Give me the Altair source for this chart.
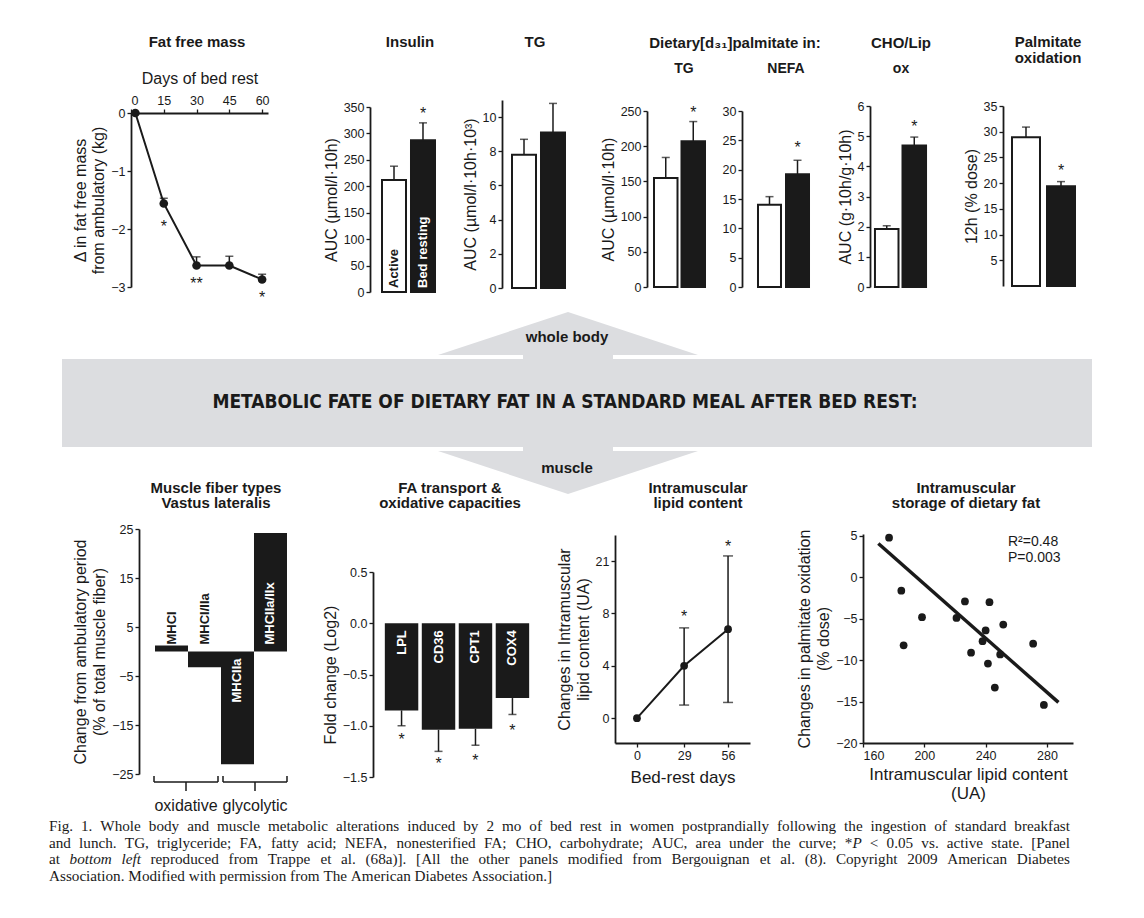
import altair as alt
import pandas as pd

SANS = "Liberation Sans"
SERIF = "Liberation Serif"
INK = "#1a1a1a"
BANNER_GREY = "#dcdde0"

# ---------------- data ----------------
# Fat free mass
ffm_days = [2, 15, 30, 45, 60]
ffm_change = [0.0, -1.56, -2.63, -2.63, -2.87]
ffm_err_top = [None, -1.47, -2.48, -2.47, -2.78]
ffm_star = ["", "*", "**", "", "*"]
ffm_star_y = [None, -1.90, -2.88, None, -3.12]

groups = ["Active", "Bed resting"]
insulin_auc = [212, 287]
insulin_err = [238, 320]
insulin_star_y = [None, 345]
tg_auc = [7.8, 9.1]
tg_err = [8.7, 10.8]
tg_star_y = [None, None]
d31_tg_auc = [155, 207]
d31_tg_err = [184, 235]
d31_tg_star_y = [None, 253]
d31_nefa_auc = [14.0, 19.2]
d31_nefa_err = [15.4, 21.6]
d31_nefa_star_y = [None, 24.4]
cho_lip_auc = [1.92, 4.69]
cho_lip_err = [2.03, 4.97]
cho_lip_star_y = [None, 5.45]
palm_ox = [28.9, 19.4]
palm_ox_err = [30.9, 20.3]
palm_ox_star_y = [None, 23.2]

# Muscle fiber types
fiber_types = ["MHCI", "MHCI/IIa", "MHCIIa", "MHCIIa/IIx"]
fiber_change = [1.2, -3.2, -23.0, 24.2]
fiber_groups = ["oxidative", "glycolytic"]

# FA transport & oxidative capacities
genes = ["LPL", "CD36", "CPT1", "COX4"]
gene_fold = [-0.85, -1.04, -1.03, -0.73]
gene_err = [-1.00, -1.25, -1.19, -0.89]
gene_star_y = [-1.10, -1.33, -1.30, -1.01]

# Intramuscular lipid content
imcl_days = [0, 29, 56]
imcl_change = [0.0, 4.0, 6.8]
imcl_low = [None, 1.0, 1.2]
imcl_high = [None, 6.9, 12.4]
imcl_star_y = [None, 8.0, 13.4]

# Intramuscular storage of dietary fat
scat_imcl = [177, 185, 186.5, 198.5, 221, 226.5, 230.5, 238, 240, 242.5,
             241.5, 246, 249.5, 251.5, 271, 278]
scat_palm = [4.8, -1.6, -8.2, -4.8, -4.9, -2.9, -9.1, -7.7, -6.4, -3.0,
             -10.4, -13.3, -9.3, -5.7, -8.0, -15.4]
fit_x = [170, 287.5]
fit_y = [4.1, -15.1]
fit_stats = ["R²=0.48", "P=0.003"]

banner_title = "METABOLIC FATE OF DIETARY FAT IN A STANDARD MEAL AFTER BED REST:"
banner_labels = ["whole body", "muscle"]
caption_lines = [
    "Fig. 1. Whole body and muscle metabolic alterations induced by 2 mo of bed rest in women postprandially following the ingestion of standard breakfast",
    "and lunch. TG, triglyceride; FA, fatty acid; NEFA, nonesterified FA; CHO, carbohydrate; AUC, area under the curve; *P < 0.05 vs. active state. [Panel",
    "at bottom left reproduced from Trappe et al. (68a)]. [All the other panels modified from Bergouignan et al. (8). Copyright 2009 American Diabetes",
    "Association. Modified with permission from The American Diabetes Association.]",
]
caption_italic = {"bottom", "left", "P"}

# ---------------- layout ----------------
H1, H3 = 300, 281


def blank(w, h):
    return alt.Chart(pd.DataFrame({"s": [0]})).mark_point(opacity=0, size=1).encode(
        x=alt.value(w / 2), y=alt.value(h / 2)).properties(width=w, height=h)


def note(text, x, y, size=15, weight="bold", color=INK, align="center", font=SANS):
    return alt.Chart(pd.DataFrame({"t": [text]})).mark_text(
        fontSize=size, fontWeight=weight, color=color, align=align,
        baseline="middle", font=font
    ).encode(x=alt.value(x), y=alt.value(y), text=alt.value(text))


def rule(x, y, x2=None, y2=None, width=1.5):
    enc = {"x": alt.value(x), "y": alt.value(y)}
    if x2 is not None:
        enc["x2"] = alt.value(x2)
    if y2 is not None:
        enc["y2"] = alt.value(y2)
    return alt.Chart(pd.DataFrame({"s": [0]})).mark_rule(
        color=INK, strokeWidth=width).encode(**enc)


# ---------------- fat free mass ----------------
def ffm_panel(w=137):
    df = pd.DataFrame({"day": ffm_days, "change": ffm_change, "err": ffm_err_top,
                       "star": ffm_star, "star_y": ffm_star_y})
    xs = alt.Scale(domain=[0, 62.7], nice=False, zero=False)
    ys = alt.Scale(domain=[-3, 0], nice=False, zero=False, range=[279, 105])
    xax = alt.Axis(orient="top", offset=-105, values=[0, 15, 30, 45, 60],
                   title="Days of bed rest", titlePadding=8, labelPadding=2)
    yax = alt.Axis(values=[0, -1, -2, -3],
                   title=["Δ in fat free mass", "from ambulatory (kg)"],
                   titleLineHeight=18)
    X = alt.X("day:Q", scale=xs, axis=xax)
    base = alt.Chart(df)
    witherr = base.transform_filter("isValid(datum.err)")
    err = witherr.mark_rule(color=INK, strokeWidth=1.5).encode(
        x=X, y=alt.Y("change:Q", scale=ys, axis=yax), y2="err:Q")
    cap = witherr.mark_tick(color=INK, thickness=1.5, size=8, orient="horizontal").encode(
        x=X, y=alt.Y("err:Q", scale=ys, axis=yax))
    line = base.mark_line(color=INK, strokeWidth=2).encode(
        x=X, y=alt.Y("change:Q", scale=ys, axis=yax))
    pts = base.mark_circle(size=75, color=INK, opacity=1).encode(
        x=X, y=alt.Y("change:Q", scale=ys, axis=yax))
    stars = base.transform_filter("isValid(datum.star_y)").mark_text(
        fontSize=16, dy=4, color=INK).encode(
        x=X, y=alt.Y("star_y:Q", scale=ys, axis=yax), text="star:N")
    return alt.layer(err, cap, line, pts, stars,
                     note("Fat free mass", 66, 34)).properties(width=w, height=H1)


# ---------------- paired bar panels ----------------
def bar_pair(vals, errs, star_y, dom, ticks, ytitle, w, rng, pin, pout,
             names=False, notes=()):
    df = pd.DataFrame({"group": groups, "value": vals, "err": errs, "star_y": star_y})
    X = alt.X("group:N", scale=alt.Scale(domain=groups, paddingInner=pin,
                                         paddingOuter=pout), axis=None)
    ys = alt.Scale(domain=dom, nice=False, zero=False, range=rng)
    yax = alt.Axis(values=ticks, title=ytitle)
    base = alt.Chart(df).encode(x=X)
    err = base.mark_rule(color=INK, strokeWidth=1.5).encode(
        y=alt.Y("value:Q", scale=ys, axis=yax), y2="err:Q")
    cap = base.mark_tick(color=INK, thickness=1.5, size=8, orient="horizontal").encode(
        y=alt.Y("err:Q", scale=ys, axis=yax))
    bars = base.mark_bar(stroke=INK, strokeWidth=2).encode(
        y=alt.Y("value:Q", scale=ys, axis=yax),
        fill=alt.condition(alt.datum.group == "Active", alt.value("white"), alt.value(INK)))
    stars = base.transform_filter("isValid(datum.star_y)").mark_text(
        text="*", fontSize=16, dy=4, color=INK).encode(
        y=alt.Y("star_y:Q", scale=ys, axis=yax))
    layers = [err, cap, bars, stars]
    if names:
        layers.append(base.mark_text(angle=270, align="left", baseline="middle", dx=4,
                                     fontSize=13, fontWeight="bold").encode(
            y=alt.YDatum(0, scale=ys),
            text="group:N",
            color=alt.condition(alt.datum.group == "Active", alt.value(INK), alt.value("white"))))
    for n in notes:
        layers.append(note(*n))
    return alt.layer(*layers).properties(width=w, height=H1)


ffm = ffm_panel()
insulin = bar_pair(insulin_auc, insulin_err, insulin_star_y, [0, 350], list(range(0, 351, 50)),
                   "AUC (µmol/l·10h)", 77, [284, 99], 0.172, 0.414, names=True,
                   notes=[("Insulin", 40, 34)])
tg = bar_pair(tg_auc, tg_err, tg_star_y, [0, 11], [0, 2, 4, 6, 8, 10],
              "AUC (µmol/l·10h·10³)", 73, [280, 92], 0.172, 0.345,
              notes=[("TG", 33, 34)])
dtg = bar_pair(d31_tg_auc, d31_tg_err, d31_tg_star_y, [0, 250], list(range(0, 251, 50)),
               "AUC (µmol/l·10h)", 65, [279, 103], 0.145, 0.2545,
               notes=[("Dietary[d₃₁]palmitate in:", 88, 35), ("TG", 37, 61, 14)])
nefa = bar_pair(d31_nefa_auc, d31_nefa_err, d31_nefa_star_y, [0, 30], list(range(0, 31, 5)),
                "", 83, [279, 103], 0.179, 0.571,
                notes=[("NEFA", 44, 61, 14)])
cho = bar_pair(cho_lip_auc, cho_lip_err, cho_lip_star_y, [0, 6], list(range(0, 7)),
               "AUC (g·10h/g·10h)", 61, [279, 98], 0.145, 0.18,
               notes=[("CHO/Lip", 31, 35), ("ox", 31, 61, 14)])
palm = bar_pair(palm_ox, palm_ox_err, palm_ox_star_y, [0, 35], list(range(5, 36, 5)),
                "12h (% dose)", 81, [278, 98], 0.2, 0.257,
                notes=[("Palmitate", 45, 34), ("oxidation", 45, 50)])


# ---------------- banner (drawn from the first cell of the lower row) ----------------
def banner_cell(w=131):
    # diagram units are figure pixels; group top of the lower row is at 496, left at 8
    bx = alt.Scale(domain=[62, 1092], range=[54, 1084], nice=False, zero=False)
    by = alt.Scale(domain=[292, 496], range=[-204, 0], nice=False, zero=False)
    rects = pd.DataFrame({"x": [62, 523, 523], "x2": [1092, 613, 613],
                          "y": [359, 355, 447], "y2": [447, 359, 451]})
    tris = pd.DataFrame({"shape": ["up"] * 3 + ["down"] * 3,
                         "x": [438, 568, 698, 438, 568, 698],
                         "y": [355, 312, 355, 451, 494, 451],
                         "y2": [355, 355, 355, 451, 451, 451]})
    r = alt.Chart(rects).mark_rect(color=BANNER_GREY).encode(
        x=alt.X("x:Q", scale=bx, axis=None), x2="x2:Q",
        y=alt.Y("y:Q", scale=by, axis=None), y2="y2:Q")
    t = alt.Chart(tris).mark_area(color=BANNER_GREY).encode(
        x=alt.X("x:Q", scale=bx, axis=None),
        y=alt.Y("y:Q", scale=by, axis=None), y2="y2:Q", detail="shape:N")
    labels = pd.DataFrame({"text": banner_labels, "x": [567, 567], "y": [337, 468]})
    lab = alt.Chart(labels).mark_text(fontSize=15, fontWeight="bold", color=INK).encode(
        x=alt.X("x:Q", scale=bx, axis=None), y=alt.Y("y:Q", scale=by, axis=None), text="text:N")
    head = alt.Chart(pd.DataFrame({"text": [banner_title], "x": [565], "y": [402]})).mark_text(
        fontSize=19, fontWeight="bold", color=INK,
        font="Liberation Sans Narrow, DejaVu Sans Condensed, Liberation Sans").encode(
        x=alt.X("x:Q", scale=bx, axis=None), y=alt.Y("y:Q", scale=by, axis=None), text="text:N")
    return alt.layer(r, t, lab, head).properties(width=w, height=H3)


# ---------------- justified caption ----------------
TIMES_W = {" ": 250, "!": 333, "'": 180, "(": 333, ")": 333, "*": 500, "+": 564, ",": 250,
           "-": 333, ".": 250, "/": 278, ":": 278, ";": 278, "<": 564, "=": 564, ">": 564,
           "[": 333, "]": 333,
           "A": 722, "B": 667, "C": 667, "D": 722, "E": 611, "F": 556, "G": 722, "H": 722,
           "I": 333, "J": 389, "K": 722, "L": 611, "M": 889, "N": 722, "O": 722, "P": 556,
           "Q": 722, "R": 667, "S": 556, "T": 611, "U": 722, "V": 722, "W": 944, "X": 722,
           "Y": 722, "Z": 611,
           "a": 444, "b": 500, "c": 444, "d": 500, "e": 444, "f": 333, "g": 500, "h": 500,
           "i": 278, "j": 278, "k": 500, "l": 278, "m": 778, "n": 500, "o": 500, "p": 500,
           "q": 500, "r": 333, "s": 389, "t": 278, "u": 500, "v": 500, "w": 722, "x": 500,
           "y": 500, "z": 444}
ITALIC_W = {"P": 611, "m": 722, "f": 278}


def text_width(s, size, italic=False):
    tot = 0
    for ch in s:
        if italic and ch in ITALIC_W:
            tot += ITALIC_W[ch]
        else:
            tot += TIMES_W.get(ch, 500)
    return tot * size / 1000.0


def word_segments(word):
    if word.startswith("*") and word[1:] in caption_italic:
        return [("*", False), (word[1:], True)]
    return [(word, word in caption_italic)]


def caption_layers(left, right, top, lead, size):
    rows = []
    for li, line in enumerate(caption_lines):
        words = line.split(" ")
        segs = [word_segments(w) for w in words]
        widths = [sum(text_width(t, size, it) for t, it in s) for s in segs]
        last = li == len(caption_lines) - 1
        gap = text_width(" ", size) if last else (right - left - sum(widths)) / (len(words) - 1)
        x = left
        for wi, (s, wd) in enumerate(zip(segs, widths)):
            sx = x
            for t, it in s:
                anchor_right = (not last) and wi == len(words) - 1 and len(s) == 1
                rows.append({"text": t, "x": right if anchor_right else sx,
                             "y": top + lead * li, "italic": it,
                             "side": "right" if anchor_right else "left"})
                sx += text_width(t, size, it)
            x += wd + gap
    df = pd.DataFrame(rows)
    out = []
    for side in ["left", "right"]:
        for it in [False, True]:
            sub = df[(df.side == side) & (df.italic == it)]
            if len(sub) == 0:
                continue
            out.append(alt.Chart(sub).mark_text(
                align=side, baseline="middle", font=SERIF, fontSize=size, color=INK,
                fontStyle="italic" if it else "normal").encode(
                x=alt.X("x:Q", scale=None, axis=None),
                y=alt.Y("y:Q", scale=None, axis=None), text="text:N"))
    return out


def caption_cell(w=70):
    # cell origin in the figure: x = 303, y = 496
    return alt.layer(blank(w, H3), *caption_layers(49 - 303, 1070 - 303, 826 - 496, 16.5, 15.2)
                     ).properties(width=w, height=H3)


# ---------------- muscle fiber types ----------------
def fiber_panel(w=164):
    pout = 0.485
    step = w / (len(fiber_types) + 2 * pout)
    df = pd.DataFrame({"fiber": fiber_types, "change": fiber_change})
    df["label_color"] = ["white" if abs(v) > 10 else INK for v in fiber_change]
    X = alt.X("fiber:N", scale=alt.Scale(domain=fiber_types, paddingInner=0,
                                         paddingOuter=pout), axis=None)
    ys = alt.Scale(domain=[-25, 25], nice=False, zero=False, range=[278, 33])
    yax = alt.Axis(values=list(range(-25, 30, 5)),
                   labelExpr="(datum.value + 25) % 10 == 0 ? datum.label : ''",
                   title=["Change from ambulatory period", "(% of total muscle fiber)"],
                   titleLineHeight=19)
    base = alt.Chart(df).encode(x=X)
    bars = base.mark_bar(color=INK).encode(y=alt.Y("change:Q", scale=ys, axis=yax))
    up = base.transform_filter("datum.change > -10").mark_text(
        angle=270, align="left", baseline="middle", dx=7, fontSize=13, fontWeight="bold").encode(
        y=alt.YDatum(0, scale=ys), text="fiber:N", color=alt.Color("label_color:N", scale=None))
    down = base.transform_filter("datum.change <= -10").mark_text(
        angle=270, align="right", baseline="middle", dx=-7, fontSize=13, fontWeight="bold",
        color="white").encode(y=alt.YDatum(0, scale=ys), text="fiber:N")
    braces = []
    by_, top_, bot_ = 286, 280, 295
    spans = [(pout * step - 1, pout * step + 2 * step - 3),
             (pout * step + 2 * step + 2, pout * step + 4 * step)]
    for (a, b), name in zip(spans, fiber_groups):
        c = (a + b) / 2
        braces += [rule(a, by_, x2=b), rule(a, top_, y2=by_), rule(b, top_, y2=by_),
                   rule(c, by_, y2=bot_), note(name, c, 310, size=16, weight="normal")]
    return alt.layer(bars, up, down, *braces,
                     note("Muscle fiber types", 77, -8), note("Vastus lateralis", 77, 7)
                     ).properties(width=w, height=H3)


# ---------------- FA transport ----------------
def fa_panel(w=168):
    df = pd.DataFrame({"gene": genes, "fold": gene_fold, "err": gene_err, "star_y": gene_star_y})
    X = alt.X("gene:N", scale=alt.Scale(domain=genes, paddingInner=0.095, paddingOuter=0.32),
              axis=None)
    ys = alt.Scale(domain=[-1.5, 0.5], nice=False, zero=False, range=[281, 76])
    yax = alt.Axis(values=[-1.5, -1.0, -0.5, 0.0, 0.5], format=".1f",
                   title="Fold change (Log2)")
    base = alt.Chart(df).encode(x=X)
    err = base.mark_rule(color=INK, strokeWidth=1.5).encode(
        y=alt.Y("fold:Q", scale=ys, axis=yax), y2="err:Q")
    cap = base.mark_tick(color=INK, thickness=1.5, size=8, orient="horizontal").encode(
        y=alt.Y("err:Q", scale=ys, axis=yax))
    bars = base.mark_bar(color=INK).encode(y=alt.Y("fold:Q", scale=ys, axis=yax))
    labels = base.mark_text(angle=270, align="right", baseline="middle", dx=-7, fontSize=13,
                            fontWeight="bold", color="white").encode(
        y=alt.YDatum(0, scale=ys), text="gene:N")
    stars = base.mark_text(text="*", fontSize=16, dy=4, color=INK).encode(
        y=alt.Y("star_y:Q", scale=ys, axis=yax))
    return alt.layer(err, cap, bars, labels, stars,
                     note("FA transport &", 77, -8), note("oxidative capacities", 77, 7)
                     ).properties(width=w, height=H3)


# ---------------- intramuscular lipid content ----------------
def imcl_panel(w=135):
    df = pd.DataFrame({"day": imcl_days, "change": imcl_change, "low": imcl_low,
                       "high": imcl_high, "star_y": imcl_star_y})
    xs = alt.Scale(domain=[-13.5, 69.5], nice=False, zero=False)
    ys = alt.Scale(domain=[-1.9, 14.0], nice=False, zero=False, range=[247, 39])
    xax = alt.Axis(values=imcl_days, title="Bed-rest days", offset=-34, titlePadding=8,
                   titleFontSize=17)
    yax = alt.Axis(values=[0, 4, 8, 12], labelExpr="datum.value == 12 ? '21' : datum.label",
                   title=["Changes in Intramuscular", "lipid content (UA)"], titleLineHeight=19)
    X = alt.X("day:Q", scale=xs, axis=xax)
    base = alt.Chart(df)
    we = base.transform_filter("isValid(datum.low)")
    err = we.mark_rule(color=INK, strokeWidth=1.5).encode(
        x=X, y=alt.Y("low:Q", scale=ys, axis=yax), y2="high:Q")
    cap_lo = we.mark_tick(color=INK, thickness=1.5, size=10, orient="horizontal").encode(
        x=X, y=alt.Y("low:Q", scale=ys, axis=yax))
    cap_hi = we.mark_tick(color=INK, thickness=1.5, size=10, orient="horizontal").encode(
        x=X, y=alt.Y("high:Q", scale=ys, axis=yax))
    line = base.mark_line(color=INK, strokeWidth=2).encode(
        x=X, y=alt.Y("change:Q", scale=ys, axis=yax))
    pts = base.mark_circle(size=60, color=INK, opacity=1).encode(
        x=X, y=alt.Y("change:Q", scale=ys, axis=yax))
    stars = base.transform_filter("isValid(datum.star_y)").mark_text(
        text="*", fontSize=16, dy=4, color=INK).encode(
        x=X, y=alt.Y("star_y:Q", scale=ys, axis=yax))
    return alt.layer(err, cap_lo, cap_hi, line, pts, stars,
                     note("Intramuscular", 83, -8), note("lipid content", 83, 7)
                     ).properties(width=w, height=H3)


# ---------------- intramuscular storage scatter ----------------
def scatter_panel(w=210):
    df = pd.DataFrame({"imcl": scat_imcl, "palm": scat_palm})
    fit = pd.DataFrame({"imcl": fit_x, "palm": fit_y})
    xs = alt.Scale(domain=[160, 297], nice=False, zero=False)
    ys = alt.Scale(domain=[-20, 5.24], nice=False, zero=False, range=[247, 38])
    xax = alt.Axis(values=[160, 200, 240, 280], offset=-34, titlePadding=5, titleFontSize=17,
                   title=["Intramuscular lipid content", "(UA)"], titleLineHeight=19)
    yax = alt.Axis(values=list(range(-20, 6, 5)),
                   title=["Changes in palmitate oxidation", "(% dose)"], titleLineHeight=19)
    X = alt.X("imcl:Q", scale=xs, axis=xax)
    Y = alt.Y("palm:Q", scale=ys, axis=yax)
    pts = alt.Chart(df).mark_circle(size=60, color=INK, opacity=1).encode(x=X, y=Y)
    line = alt.Chart(fit).mark_line(color=INK, strokeWidth=3.5).encode(x=X, y=Y)
    return alt.layer(line, pts,
                     note(fit_stats[0], 145, 46, size=14, weight="normal", align="left"),
                     note(fit_stats[1], 145, 62, size=14, weight="normal", align="left"),
                     note("Intramuscular", 103, -8), note("storage of dietary fat", 103, 7)
                     ).properties(width=w, height=H3)


rowA = alt.hconcat(blank(123, H1), ffm, blank(102, H1), insulin, blank(55, H1), tg,
                   blank(72, H1), dtg, blank(30, H1), nefa, blank(45, H1), cho,
                   blank(72, H1), palm, spacing=0, bounds="flush")
rowB = alt.hconcat(banner_cell(), fiber_panel(), caption_cell(), fa_panel(), blank(74, H3),
                   imcl_panel(), blank(113, H3), scatter_panel(), spacing=0, bounds="flush")

chart = alt.vconcat(rowA, rowB, spacing=4).properties(
    padding=0
).configure_view(stroke=None).configure_axis(
    labelFont=SANS, titleFont=SANS, labelFontSize=12.5, titleFontSize=16,
    titleFontWeight="normal", labelColor=INK, titleColor=INK, domainColor=INK,
    tickColor=INK, domainWidth=1.8, tickWidth=1.3, tickSize=4, grid=False
).configure_text(font=SANS)

chart.save("out.html", embed_options={"renderer": "svg", "actions": False})
